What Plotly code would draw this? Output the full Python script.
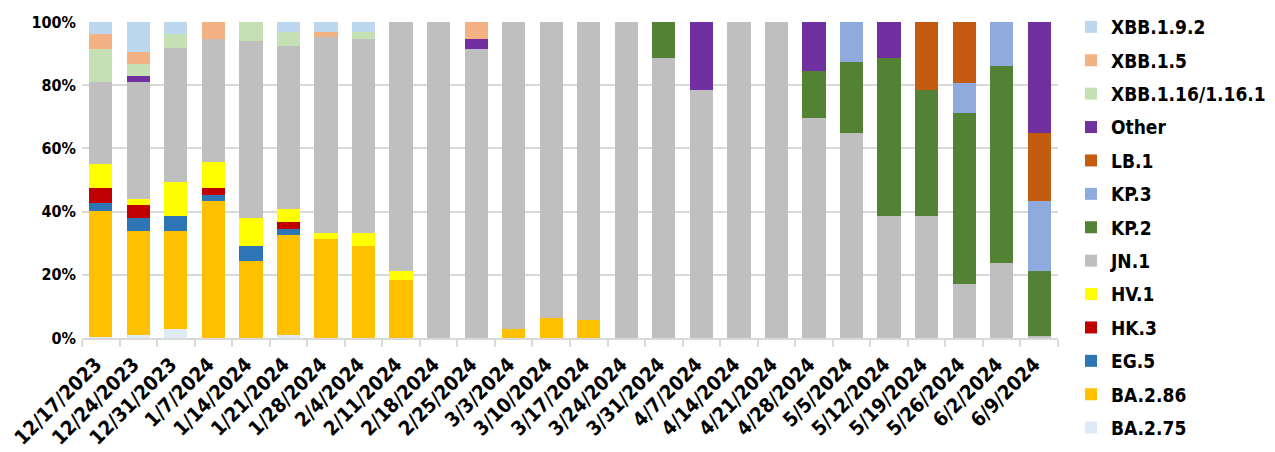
import plotly.graph_objects as go

dates = ["12/17/2023", "12/24/2023", "12/31/2023", "1/7/2024", "1/14/2024", "1/21/2024",
         "1/28/2024", "2/4/2024", "2/11/2024", "2/18/2024", "2/25/2024", "3/3/2024",
         "3/10/2024", "3/17/2024", "3/24/2024", "3/31/2024", "4/7/2024", "4/14/2024",
         "4/21/2024", "4/28/2024", "5/5/2024", "5/12/2024", "5/19/2024", "5/26/2024",
         "6/2/2024", "6/9/2024"]

ba_2_75 = [0.3, 1.0, 2.9, 0, 0, 1.0, 0, 0, 0, 0, 0, 0, 0, 0, 0, 0, 0, 0, 0, 0, 0, 0, 0, 0, 0, 0]
ba_2_86 = [39.9, 33.0, 31.1, 43.4, 24.5, 31.6, 31.3, 29.2, 18.4, 0, 0, 2.8, 6.3, 5.7, 0, 0, 0, 0, 0, 0, 0, 0, 0, 0, 0, 0]
eg_5 = [2.6, 4.1, 4.7, 2.0, 4.7, 2.0, 0, 0, 0, 0, 0, 0, 0, 0, 0, 0, 0, 0, 0, 0, 0, 0, 0, 0, 0, 0]
hk_3 = [4.8, 3.9, 0, 2.1, 0, 2.1, 0, 0, 0, 0, 0, 0, 0, 0, 0, 0, 0, 0, 0, 0, 0, 0, 0, 0, 0, 0]
hv_1 = [7.4, 2.0, 10.8, 8.1, 8.9, 4.0, 1.9, 4.0, 2.8, 0, 0, 0, 0, 0, 0, 0, 0, 0, 0, 0, 0, 0, 0, 0, 0, 0]
jn_1 = [26.1, 37.1, 42.4, 39.0, 55.9, 51.8, 62.2, 61.5, 78.8, 100, 91.4, 97.2, 93.7, 94.3, 100,
        88.7, 78.5, 100, 100, 69.7, 65.0, 38.6, 38.6, 17.1, 23.8, 0.5]
kp_2 = [0, 0, 0, 0, 0, 0, 0, 0, 0, 0, 0, 0, 0, 0, 0, 11.3, 0, 0, 0, 14.9, 22.2, 50.1, 39.9, 54.0, 62.2, 20.6]
kp_3 = [0, 0, 0, 0, 0, 0, 0, 0, 0, 0, 0, 0, 0, 0, 0, 0, 0, 0, 0, 0, 12.8, 0, 0, 9.5, 14.0, 22.3]
lb_1 = [0, 0, 0, 0, 0, 0, 0, 0, 0, 0, 0, 0, 0, 0, 0, 0, 0, 0, 0, 0, 0, 0, 21.5, 19.4, 0, 21.6]
other = [0, 1.9, 0, 0, 0, 0, 0, 0, 0, 0, 3.3, 0, 0, 0, 0, 0, 21.5, 0, 0, 15.4, 0, 11.3, 0, 0, 0, 35.0]
xbb_1_16 = [10.3, 3.6, 4.2, 0, 6.0, 4.2, 0, 2.0, 0, 0, 0, 0, 0, 0, 0, 0, 0, 0, 0, 0, 0, 0, 0, 0, 0, 0]
xbb_1_5 = [4.7, 4.0, 0, 5.4, 0, 0, 1.3, 0, 0, 0, 5.3, 0, 0, 0, 0, 0, 0, 0, 0, 0, 0, 0, 0, 0, 0, 0]
xbb_1_9_2 = [3.9, 9.4, 3.9, 0, 0, 3.3, 3.3, 3.3, 0, 0, 0, 0, 0, 0, 0, 0, 0, 0, 0, 0, 0, 0, 0, 0, 0, 0]

series = [
    ("BA.2.75", ba_2_75, "#DEEBF7"),
    ("BA.2.86", ba_2_86, "#FFC000"),
    ("EG.5", eg_5, "#2E75B6"),
    ("HK.3", hk_3, "#C00000"),
    ("HV.1", hv_1, "#FFFF00"),
    ("JN.1", jn_1, "#BFBFBF"),
    ("KP.2", kp_2, "#548235"),
    ("KP.3", kp_3, "#8FAADC"),
    ("LB.1", lb_1, "#C55A11"),
    ("Other", other, "#7030A0"),
    ("XBB.1.16/1.16.1", xbb_1_16, "#C5E0B4"),
    ("XBB.1.5", xbb_1_5, "#F4B183"),
    ("XBB.1.9.2", xbb_1_9_2, "#BDD7EE"),
]

FONT = "DejaVu Sans Condensed"

fig = go.Figure()
n = len(series)
for i, (name, vals, color) in enumerate(series):
    fig.add_trace(go.Bar(
        x=dates, y=[v / 100 for v in vals], name=name, legendgroup=name,
        legendrank=n - i,
        marker=dict(color=color, line=dict(width=0)),
    ))

fig.update_layout(
    barmode="stack",
    bargap=0.38,
    width=1275, height=452,
    margin=dict(l=74, r=225, t=14, b=122, autoexpand=False),
    plot_bgcolor="white", paper_bgcolor="white",
    font=dict(family=FONT, size=18, color="black", weight="bold"),
    legend=dict(
        traceorder="grouped",
        xref="container", x=1063 / 1275, xanchor="left",
        yref="container", y=1.012, yanchor="top",
        font=dict(family=FONT, size=19, color="black", weight="bold"),
        tracegroupgap=5.7, itemwidth=30, maxheight=1.0,
    ),
    showlegend=True,
)
fig.update_yaxes(
    range=[0, 1.0], tickformat=".0%", dtick=0.2,
    showgrid=True, gridcolor="#D9D9D9", gridwidth=1.5,
    zeroline=False, showline=False, ticks="",
    tickfont=dict(family=FONT, size=16, color="black", weight="bold"),
    ticklabelstandoff=5,
)
fig.update_xaxes(
    type="category", tickangle=-45,
    showline=True, linecolor="#D9D9D9", linewidth=1.5,
    ticks="outside", tickson="boundaries", ticklen=7, tickcolor="#D9D9D9", tickwidth=1.5,
    tickfont=dict(family=FONT, size=20, color="black", weight="bold"),
    ticklabelstandoff=5, ticklabelshift=-5,
)

fig.write_html("out.html")
